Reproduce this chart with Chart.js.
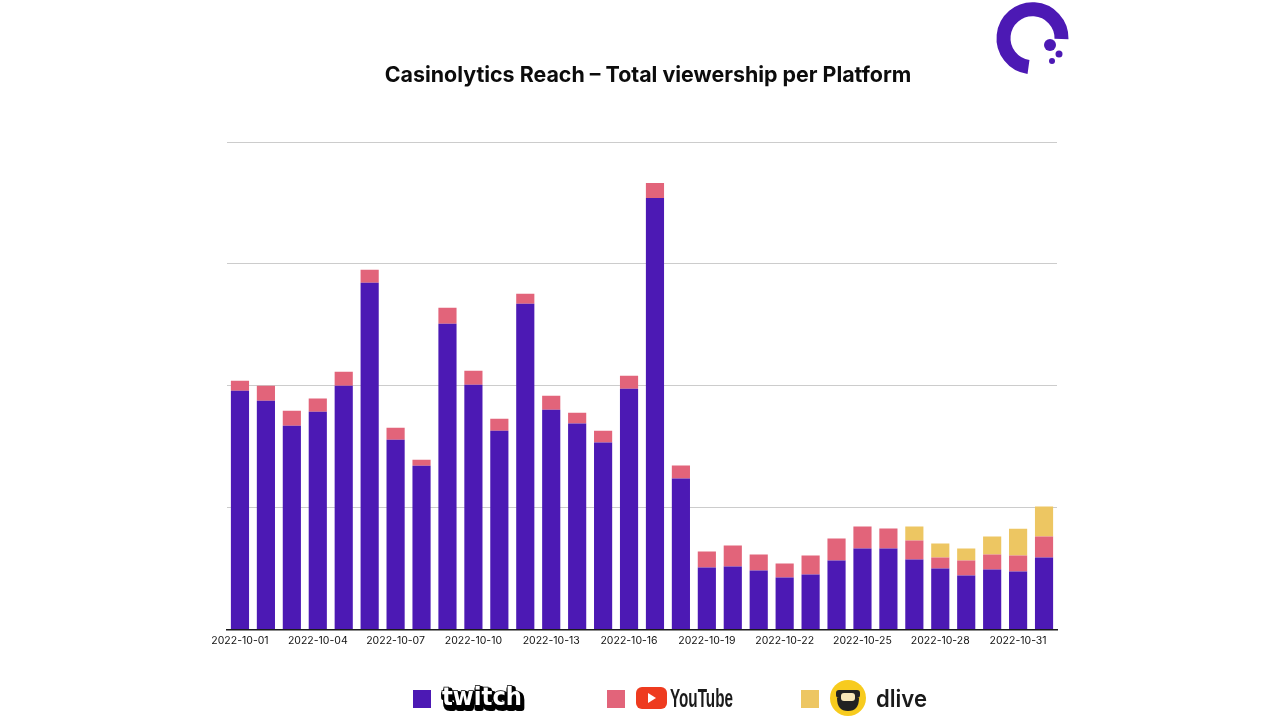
<!DOCTYPE html>
<html>
<head>
<meta charset="utf-8">
<title>Casinolytics Reach</title>
<script src="https://cdn.jsdelivr.net/npm/chart.js@4"></script>
<style>
    html, body { margin: 0; padding: 0; background: #fff; }
    #page { position: relative; width: 1280px; height: 720px; overflow: hidden; background: #fff; }
    #canvas_grafico { position: absolute; left: 0; top: 0; }
    #titulo { position: absolute; left: 248px; width: 800px; top: 61px; text-align: center;
        font: 700 21.4px Inter, sans-serif; color: #0c0c0c; white-space: nowrap; }
    .swatch { position: absolute; top: 690px; width: 18px; height: 18px; }
    .logo { position: absolute; top: 678px; }
</style>
</head>
<body>
<div id="page">
    <canvas id="canvas_grafico" width="1280" height="720"></canvas>
    <div id="titulo">Casinolytics Reach – Total viewership per Platform</div>

    <!-- logo do canto -->
    <svg class="logo" style="left:992px;top:1px" width="86" height="80" viewBox="0 0 86 80">
        <path d="M69.5 38 A29 29 0 1 0 36.5 66" fill="none" stroke="#4c19b4" stroke-width="14"/>
        <circle cx="58" cy="44" r="6" fill="#4c19b4"/>
        <circle cx="67" cy="53" r="3.5" fill="#4c19b4"/>
        <circle cx="60" cy="60" r="3" fill="#4c19b4"/>
    </svg>

    <!-- legenda -->
    <div class="swatch" style="left:413px;background:#4c19b4"></div>
    <svg class="logo" style="left:438px;top:679px" width="90" height="38" viewBox="0 0 90 38">
        <text x="4" y="26" textLength="80" lengthAdjust="spacingAndGlyphs" font-family="'DejaVu Sans'" font-weight="700" font-size="25"
            fill="#000" stroke="#000" stroke-width="6" stroke-linejoin="round" transform="translate(1.5,3)">twitch</text>
        <text x="4" y="26" textLength="80" lengthAdjust="spacingAndGlyphs" font-family="'DejaVu Sans'" font-weight="700" font-size="25"
            fill="#fff" stroke="#000" stroke-width="1.5" paint-order="stroke">twitch</text>
    </svg>

    <div class="swatch" style="left:607px;background:#e2647a"></div>
    <svg class="logo" style="left:634px" width="102" height="38" viewBox="0 0 102 38">
        <rect x="2" y="9" width="31" height="22" rx="6" fill="#ee3b1f"/>
        <path d="M14 15 L22 20 L14 25 Z" fill="#fff"/>
        <text x="36" y="29" textLength="63" lengthAdjust="spacingAndGlyphs" font-family="'Liberation Sans Narrow','Liberation Sans'" font-weight="700" font-size="25" fill="#1a1a1a">YouTube</text>
    </svg>

    <div class="swatch" style="left:801px;background:#edc662"></div>
    <svg class="logo" style="left:828px;top:678px" width="104" height="42" viewBox="0 0 104 42">
        <circle cx="20" cy="20" r="18" fill="#f7cb1e"/>
        <rect x="8" y="12" width="24" height="8" rx="3" fill="#222"/>
        <path d="M9 20 Q9 33 20 33 Q31 33 31 20 Z" fill="#222"/>
        <rect x="13" y="15" width="14" height="8" rx="3" fill="#f7e6b8"/>
        <text x="48" y="29" textLength="51" lengthAdjust="spacingAndGlyphs" font-family="Inter" font-weight="600" font-size="24" fill="#1a1a1a">dlive</text>
    </svg>
</div>

<script>
const dias = [
    '2022-10-01', '2022-10-02', '2022-10-03', '2022-10-04', '2022-10-05', '2022-10-06', '2022-10-07', '2022-10-08',
    '2022-10-09', '2022-10-10', '2022-10-11', '2022-10-12', '2022-10-13', '2022-10-14', '2022-10-15', '2022-10-16',
    '2022-10-17', '2022-10-18', '2022-10-19', '2022-10-20', '2022-10-21', '2022-10-22', '2022-10-23', '2022-10-24',
    '2022-10-25', '2022-10-26', '2022-10-27', '2022-10-28', '2022-10-29', '2022-10-30', '2022-10-31', '2022-11-01'
];
const twitch = [
    1959, 1877, 1672, 1787, 2000, 2844, 1557, 1344,
    2508, 2008, 1631, 2672, 1803, 1689, 1533, 1975,
    3541, 1238, 508, 516, 484, 426, 451, 566,
    664, 664, 574, 500, 443, 492, 475, 590
];
const youtube = [
    82, 123, 123, 107, 115, 107, 98, 49,
    131, 115, 98, 82, 115, 90, 98, 107,
    123, 107, 131, 172, 131, 115, 156, 180,
    180, 164, 156, 90, 123, 123, 131, 172
];
const dlive = [
    0, 0, 0, 0, 0, 0, 0, 0,
    0, 0, 0, 0, 0, 0, 0, 0,
    0, 0, 0, 0, 0, 0, 0, 0,
    0, 0, 115, 115, 98, 148, 221, 246
];

const ctx = document.getElementById('canvas_grafico').getContext('2d');
new Chart(ctx, {
    type: 'bar',
    data: {
        labels: dias,
        datasets: [
            { label: 'Twitch', data: twitch, backgroundColor: '#4c19b4' },
            { label: 'YouTube', data: youtube, backgroundColor: '#e2647a' },
            { label: 'DLive', data: dlive, backgroundColor: '#edc662' }
        ]
    },
    options: {
        responsive: false,
        animation: false,
        layout: { padding: { left: 227, right: 223, top: 142, bottom: 68 } },
        datasets: { bar: { categoryPercentage: 1, barPercentage: 0.7 } },
        scales: {
            x: {
                stacked: true,
                grid: { display: false, drawTicks: false },
                border: { color: '#1a1a1a', width: 1.5 },
                ticks: {
                    color: '#111',
                    font: { family: 'Inter', size: 10.5 },
                    padding: 5,
                    autoSkip: false,
                    maxRotation: 0,
                    minRotation: 0,
                    // so um rotulo a cada tres dias
                    callback: function(value, index) {
                        return index % 3 === 0 && index < 31 ? this.getLabelForValue(value) : '';
                    }
                }
            },
            y: {
                stacked: true,
                min: 0,
                max: 4000,
                grid: { color: '#cccccc', lineWidth: 1, drawTicks: false },
                border: { display: false },
                ticks: { stepSize: 1000, display: false }
            }
        },
        plugins: {
            legend: { display: false },
            tooltip: { enabled: false }
        }
    }
});
</script>
</body>
</html>
